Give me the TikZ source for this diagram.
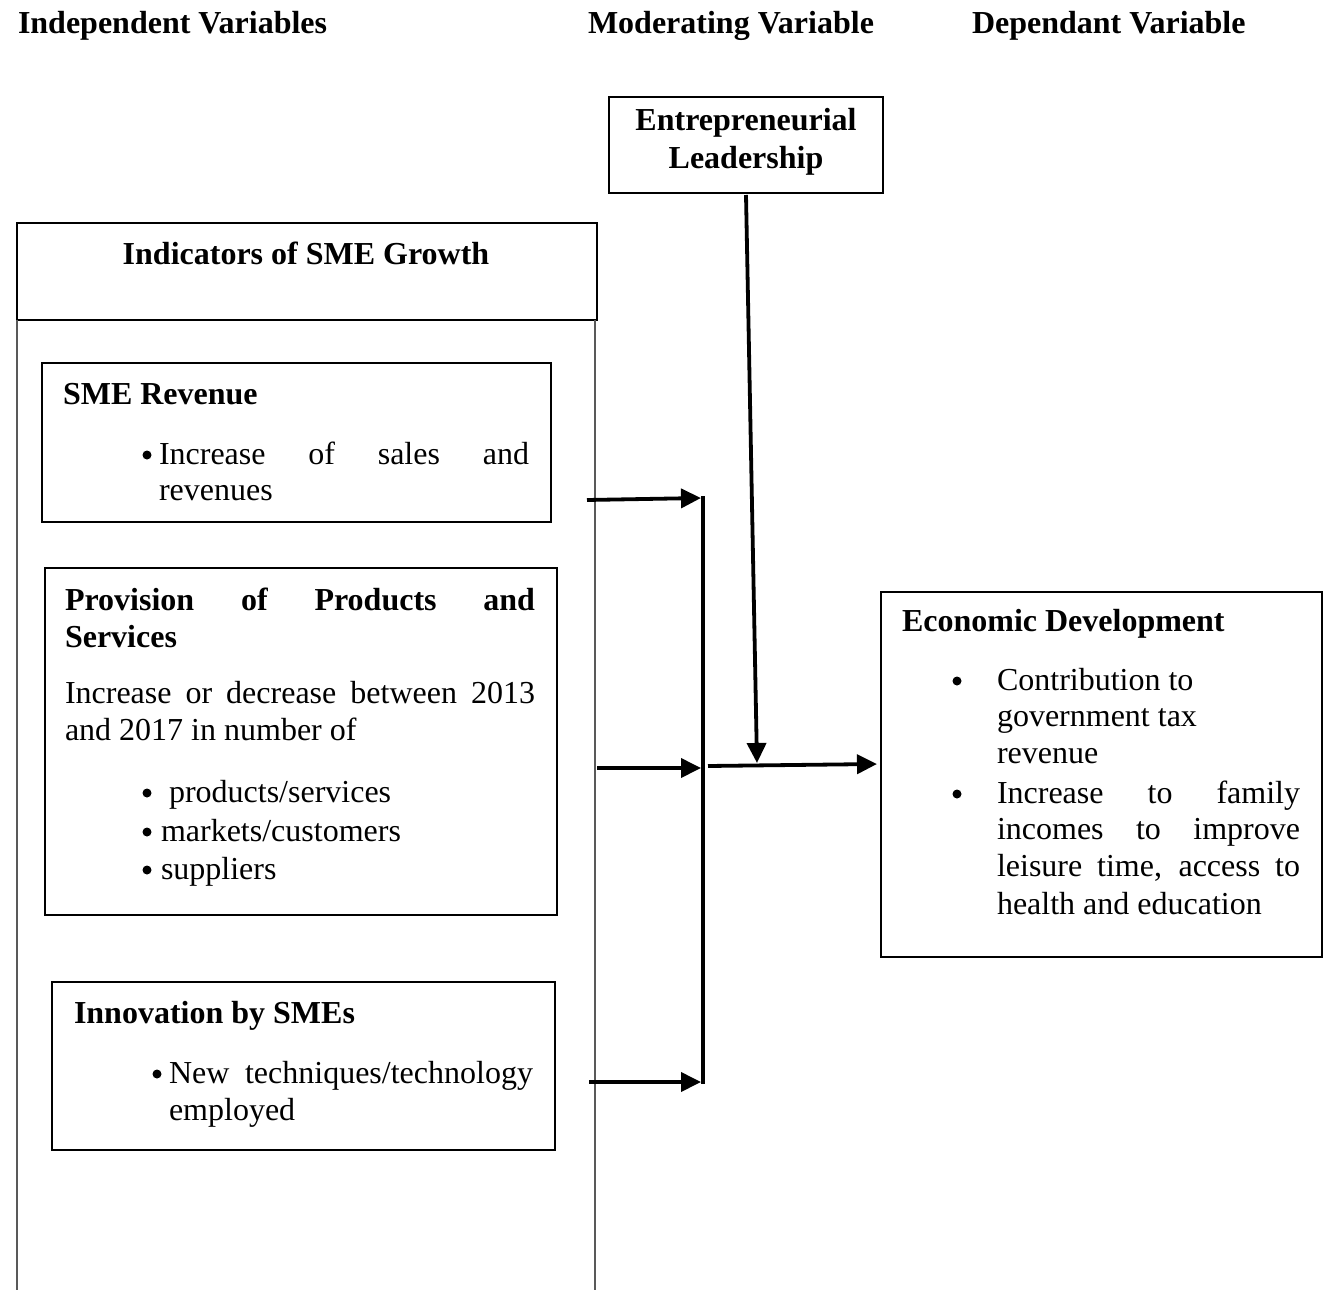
\documentclass[tikz,border=0pt]{standalone}
\usepackage{fontspec}
\setmainfont{Liberation Serif}
\usetikzlibrary{arrows.meta}
\begin{document}
\begin{tikzpicture}[x=1pt,y=-1pt,
  every node/.style={inner sep=0pt,outer sep=0pt,font=\fontsize{32}{37}\selectfont},
  txt/.style={anchor=base west},
  bf/.style={anchor=base west,font=\fontsize{32}{37}\selectfont\bfseries},
  bul/.style={circle,fill=black,minimum size=9pt,anchor=center},
  box/.style={draw,line width=2.8pt,anchor=north west},
  frame/.style={draw=black!65,line width=1.6pt},
  arr/.style={line width=3.8pt,-{Triangle[length=20pt,width=19pt]}},
  bar/.style={line width=4pt}]
\useasboundingbox (0,0) rectangle (1325,1290);
% headers
\node[bf] (h1) at (18,34) {Independent Variables};
\node[bf] (h2) at (588,34) {Moderating Variable};
\node[bf] (h3) at (972,34) {Dependant Variable};
% moderating box
\node[box,minimum width=274pt,minimum height=96pt] (ent) at (609,97) {};
\node[bf,anchor=base] (ent1) at (746,130) {Entrepreneurial};
\node[bf,anchor=base] (ent2) at (746,168) {Leadership};
% indicators frame
\node[box,minimum width=580pt,minimum height=97pt] (ind) at (17,223) {};
\node[bf,anchor=base] (indt) at (306,264) {Indicators of SME Growth};
\draw[frame] (ind.south west) -- (17,1290);
\draw[frame] ([xshift=-2pt]ind.south east) -- (595,1290);
% SME revenue
\node[box,minimum width=509pt,minimum height=159pt] (rev) at (42,363) {};
\node[bf] (revt) at (63,404) {SME Revenue};
\node[bul] (revb) at (147,455) {};
\node[txt] (rev1) at (159,464) {\makebox[370pt][s]{Increase of sales and}};
\node[txt] (rev2) at (159,500) {revenues};
% provision
\node[box,minimum width=512pt,minimum height=347pt] (prov) at (45,568) {};
\node[bf] (prov1) at (65,610) {\makebox[470pt][s]{Provision of Products and}};
\node[bf] (prov2) at (65,647) {Services};
\node[txt] (prov3) at (65,703) {\makebox[470pt][s]{Increase or decrease between 2013}};
\node[txt] (prov4) at (65,740) {and 2017 in number of};
\node[bul] (pb1) at (147,793) {};
\node[txt] (p1) at (169,802) {products/services};
\node[bul] (pb2) at (147,832) {};
\node[txt] (p2) at (161,841) {markets/customers};
\node[bul] (pb3) at (147,870) {};
\node[txt] (p3) at (161,879) {suppliers};
% innovation
\node[box,minimum width=503pt,minimum height=168pt] (inn) at (52,982) {};
\node[bf] (innt) at (74,1023) {Innovation by SMEs};
\node[bul] (innb) at (157,1074) {};
\node[txt] (inn1) at (169,1083) {\makebox[364pt][s]{New techniques/technology}};
\node[txt] (inn2) at (169,1120) {employed};
% economic development
\node[box,minimum width=441pt,minimum height=365pt] (eco) at (881,592) {};
\node[bf] (ecot) at (902,631) {Economic Development};
\node[bul] (eb1) at (957,681) {};
\node[txt] (e1) at (997,690) {Contribution to};
\node[txt] (e2) at (997,726) {government tax};
\node[txt] (e3) at (997,763) {revenue};
\node[bul] (eb2) at (957,794) {};
\node[txt] (e4) at (997,803) {\makebox[303pt][s]{Increase to family}};
\node[txt] (e5) at (997,839) {\makebox[303pt][s]{incomes to improve}};
\node[txt] (e6) at (997,876) {\makebox[303pt][s]{leisure time, access to}};
\node[txt] (e7) at (997,914) {health and education};
% connectors
\coordinate (a1s) at (587,500);
\coordinate (a1e) at (701,498);
\coordinate (a2s) at (597,768);
\coordinate (a2e) at (701,768);
\coordinate (a3s) at (589,1082);
\coordinate (a3e) at (701,1082);
\coordinate (bt) at (703,496);
\coordinate (bb) at (703,1084);
\coordinate (os) at (708,766);
\coordinate (dn) at (757,763);
\draw[arr] (a1s) -- (a1e);
\draw[arr] (a2s) -- (a2e);
\draw[arr] (a3s) -- (a3e);
\draw[bar] (bt) -- (bb);
\draw[arr] (os) -- ([xshift=-4pt]eco.west |- 0,764);
\draw[arr] ([yshift=-2pt]ent.south) -- (dn);
\end{tikzpicture}
\end{document}
